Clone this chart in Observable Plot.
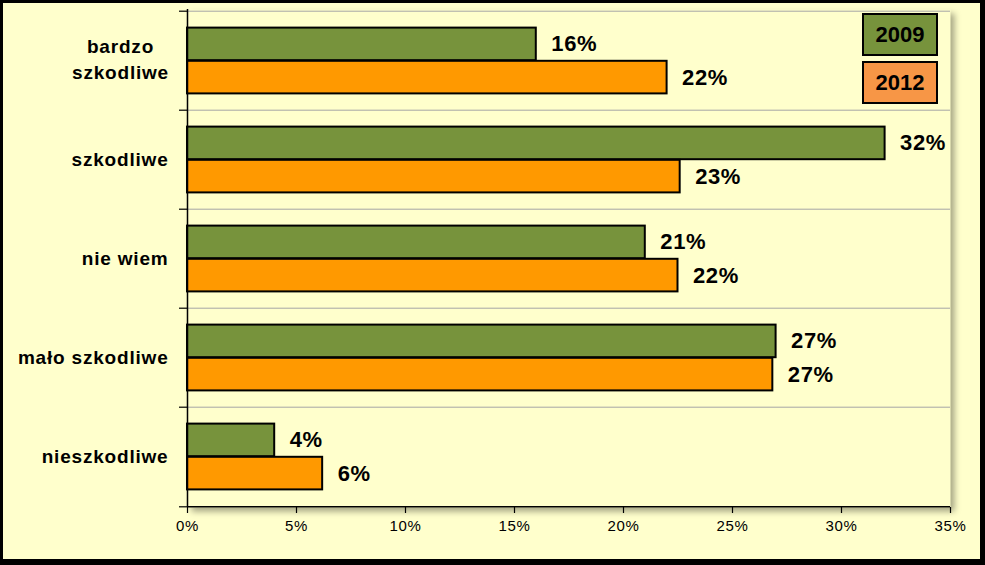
<!DOCTYPE html>
<html>
<head>
<meta charset="utf-8">
<script src="https://cdn.jsdelivr.net/npm/d3@7"></script>
<script src="https://cdn.jsdelivr.net/npm/@observablehq/plot@0.6"></script>
<style>
  html, body { margin: 0; padding: 0; background: #000; }
  #wrap { position: relative; width: 985px; height: 565px; overflow: hidden; background: #000;
    font-family: "Liberation Sans", Arial, sans-serif; }
  #panel { position: absolute; left: 3px; top: 3px; width: 977px; height: 556px; background: #FFFFCC; }
  #chart { position: absolute; left: 0; top: 0; }
  .legend { position: absolute; left: 862px; width: 72px; height: 39px; border: 2px solid #000;
    font-weight: bold; font-size: 22px; line-height: 39px; text-align: center; color: #000; }
</style>
</head>
<body>
<div id="wrap">
  <div id="panel"></div>
  <div id="chart"></div>
  <div class="legend" id="leg2009" style="top:13px;"></div>
  <div class="legend" id="leg2012" style="top:61px;"></div>
</div>
<script>
const categories = ["bardzo szkodliwe", "szkodliwe", "nie wiem", "mało szkodliwe", "nieszkodliwe"];
const years = ["2009", "2012"];
const values2009 = [16, 32, 21, 27, 4];
const values2012 = [22, 22.6, 22.5, 26.85, 6.2];
const labels2009 = ["16%", "32%", "21%", "27%", "4%"];
const labels2012 = ["22%", "23%", "22%", "27%", "6%"];
const xTicks = [0, 5, 10, 15, 20, 25, 30, 35];
const categoryText = ["bardzo\nszkodliwe", "szkodliwe", "nie wiem", "mało szkodliwe", "nieszkodliwe"];

const colors = {"2009": "#77933C", "2012": "#FF9900"};
const legendColors = {"2009": "#77933C", "2012": "#F79646"};

const rows2009 = categories.map((c, i) => ({category: c, value: values2009[i], label: labels2009[i], text: categoryText[i]}));
const rows2012 = categories.map((c, i) => ({category: c, value: values2012[i], label: labels2012[i]}));

const W = 985, H = 565, mt = 9, mb = 58, ml = 187, mr = 35;
const step = (H - mt - mb) / categories.length;
const barH = step / 3;
const gap = (step - 2 * barH) / 2;
const font = "Liberation Sans, Arial, sans-serif";

const multi = rows2009.filter(d => d.text.includes("\n"));
const single = rows2009.filter(d => !d.text.includes("\n"));

const plot = Plot.plot({
  width: W, height: H,
  marginTop: mt, marginBottom: mb, marginLeft: ml, marginRight: mr,
  style: {background: "transparent", fontFamily: font, color: "#000", overflow: "visible"},
  x: {domain: [0, 35], axis: null},
  y: {domain: categories, paddingInner: 0, paddingOuter: 0, axis: null},
  marks: [
    Plot.frame({fill: "#FFFFCC", stroke: null}),
    Plot.ruleY(categories, {dy: -step / 2, stroke: "#A6A6A6", strokeWidth: 1}),
    Plot.barX(rows2009, {x: "value", y: "category", fill: colors["2009"], stroke: "#000", strokeWidth: 2,
      insetTop: gap, insetBottom: step - gap - barH}),
    Plot.barX(rows2012, {x: "value", y: "category", fill: colors["2012"], stroke: "#000", strokeWidth: 2,
      insetTop: gap + barH, insetBottom: gap}),
    Plot.text(rows2009, {x: "value", y: "category", text: "label", dx: 15, dy: -barH / 2,
      textAnchor: "start", fontSize: 22, fontWeight: "bold", fill: "#000"}),
    Plot.text(rows2012, {x: "value", y: "category", text: "label", dx: 15, dy: barH / 2,
      textAnchor: "start", fontSize: 22, fontWeight: "bold", fill: "#000"}),
    Plot.ruleX([0], {stroke: "#000", strokeWidth: 1.5}),
    Plot.ruleY([categories[categories.length - 1]], {dy: step / 2, stroke: "#000", strokeWidth: 1.5}),
    Plot.axisY({ticks: categories, tickFormat: () => "", tickSize: 8, dy: -step / 2, strokeWidth: 1.2, label: null}),
    Plot.axisY({ticks: [categories[categories.length - 1]], tickFormat: () => "", tickSize: 8, dy: step / 2, strokeWidth: 1.2, label: null}),
    Plot.axisX({ticks: xTicks, tickFormat: d => d + "%", tickSize: 6, tickPadding: 7, fontSize: 15, strokeWidth: 1.2, label: null}),
    Plot.text(single, {y: "category", text: "text", frameAnchor: "left", dx: -19, textAnchor: "end",
      fontSize: 19, fontWeight: "bold", fill: "#000"}),
    Plot.text(multi, {y: "category", text: "text", frameAnchor: "left", dx: -67, dy: -3, textAnchor: "middle",
      fontSize: 19, fontWeight: "bold", fill: "#000", lineHeight: 1.35})
  ]
});

d3.select(plot).selectAll("text").style("letter-spacing", "0.6px");
d3.select(plot).selectAll("[aria-label=text] text").filter(function() {
  return !/%$/.test(this.textContent);
}).style("letter-spacing", "0.8px");
d3.select(plot).select("[aria-label=frame]").style("filter", "drop-shadow(4px 4px 3px rgba(0,0,0,0.35))");
document.getElementById("chart").appendChild(plot);

d3.select("#leg2009").text(years[0]).style("background", legendColors["2009"]);
d3.select("#leg2012").text(years[1]).style("background", legendColors["2012"]);
</script>
</body>
</html>
